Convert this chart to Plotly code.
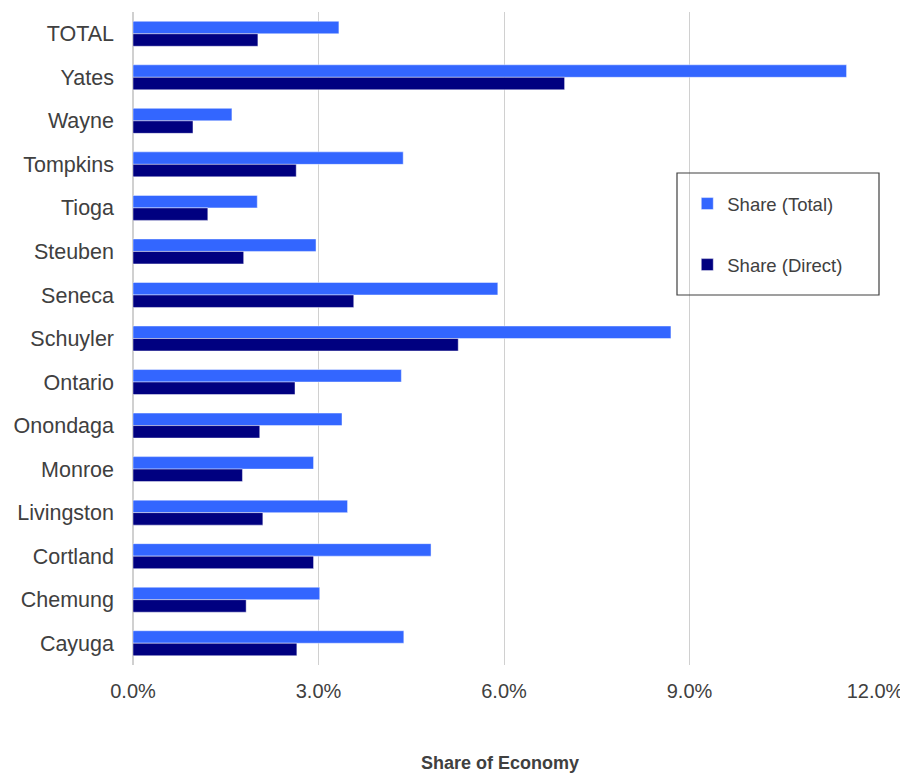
import plotly.graph_objects as go

counties = ["TOTAL", "Yates", "Wayne", "Tompkins", "Tioga", "Steuben", "Seneca",
            "Schuyler", "Ontario", "Onondaga", "Monroe", "Livingston", "Cortland",
            "Chemung", "Cayuga"]
share_total = [3.33, 11.54, 1.60, 4.37, 2.01, 2.96, 5.90, 8.70, 4.34, 3.38, 2.92,
               3.47, 4.82, 3.02, 4.38]
share_direct = [2.02, 6.98, 0.97, 2.64, 1.21, 1.79, 3.57, 5.26, 2.62, 2.05, 1.77,
                2.10, 2.92, 1.83, 2.65]
x_ticks = [0, 3, 6, 9, 12]
x_tick_labels = ["0.0%", "3.0%", "6.0%", "9.0%", "12.0%"]

FONT = "Liberation Sans, Arial, sans-serif"
TXT = "#404040"

fig = go.Figure()
fig.add_trace(go.Bar(y=counties, x=share_total, orientation="h", name="Share (Total)",
                     legendgroup="a",
                     marker=dict(color="#3366FF", line=dict(color="rgba(255,255,255,0.45)", width=1))))
fig.add_trace(go.Bar(y=counties, x=share_direct, orientation="h", name="Share (Direct)",
                     legendgroup="b",
                     marker=dict(color="#000080", line=dict(color="rgba(255,255,255,0.45)", width=1))))

fig.update_layout(
    width=900, height=766,
    margin=dict(l=125, r=33, t=4, b=109),
    paper_bgcolor="white", plot_bgcolor="white",
    barmode="group", bargap=0.426, bargroupgap=0,
    font=dict(family=FONT, color=TXT, size=18),
    showlegend=True,
    legend=dict(x=0.747, y=0.735, xanchor="left", yanchor="top",
                bgcolor="rgba(0,0,0,0)", borderwidth=0,
                font=dict(size=18.5, color=TXT, family=FONT),
                traceorder="grouped", tracegroupgap=34),
    xaxis=dict(range=[0, 12], tickvals=x_ticks, ticktext=x_tick_labels,
               showgrid=True, gridcolor="#d0d0d0", gridwidth=1,
               zeroline=True, zerolinecolor="#d0d0d0", zerolinewidth=2,
               showline=False, ticks="", ticklabelstandoff=12,
               tickfont=dict(size=20, color=TXT, family=FONT)),
    yaxis=dict(autorange="reversed", showgrid=False, showline=False, ticks="",
               ticklabelstandoff=18,
               tickfont=dict(size=21.5, color=TXT, family=FONT)),
    shapes=[dict(type="rect", xref="paper", yref="paper",
                 x0=(677 - 133) / 742, x1=(879 - 133) / 742,
                 y0=(665 - 295) / 653, y1=(665 - 173) / 653,
                 line=dict(color="#404040", width=1.2), fillcolor="rgba(0,0,0,0)",
                 layer="above")],
    annotations=[dict(text="<b>Share of Economy</b>", xref="paper", yref="paper",
                      x=(500 - 133) / 742, y=(665 - 763) / 653, xanchor="center",
                      yanchor="middle", showarrow=False,
                      font=dict(size=18, color=TXT, family=FONT))],
)

fig.write_html("out.html")
